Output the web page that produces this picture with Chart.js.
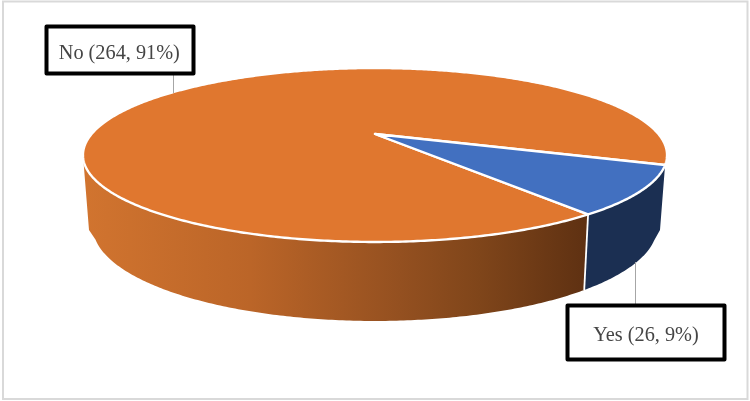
<!DOCTYPE html>
<html><head><meta charset="utf-8">
<script src="https://cdn.jsdelivr.net/npm/chart.js@4/dist/chart.umd.js"></script>
<style>html,body{margin:0;padding:0;background:#fff}#w{position:relative;width:750px;height:401px}</style>
</head><body><div id="w"><canvas id="c" width="750" height="401"></canvas></div>
<script>
const categories = ["Yes", "No"];
const counts = [26, 264];
const percents = [9, 91];
const sliceColors = ["#4270c0", "#e0772f"];
const wallColors = ["#1b2f52", null];

const K = 0.2414;            // perspective strength
const top3d = {cy:134, ax:283.4/133, by:81.9/133};
const bot3d = {cy:204.3, ax:273.7/133, by:88.5/133};
const rimShift = 0.015;      // lower rim seam sits slightly ahead of the upper one
function proj(arc, g, a){
  const u=Math.cos(a), v=Math.sin(a), w=1-K*v, r=arc.outerRadius;
  return [arc.x + g.ax*r*u/w, g.cy + g.by*r*v/w];
}
function trace(ctx, arc, g, a0, a1, move){
  const n=Math.max(2,Math.ceil(Math.abs(a1-a0)/0.01));
  for(let i=0;i<=n;i++){
    const p=proj(arc,g,a0+(a1-a0)*i/n);
    if(i===0&&move) ctx.moveTo(p[0],p[1]); else ctx.lineTo(p[0],p[1]);
  }
}
const leftLimit = Math.PI - Math.asin(K);
const pie3d = {
  id:"pie3d",
  beforeDatasetDraw(chart){
    const ctx=chart.ctx, arcs=chart.getDatasetMeta(0).data;
    const yes=arcs[0], no=arcs[1];
    const seam=no.startAngle-rimShift;
    ctx.save();
    const g=ctx.createLinearGradient(85,0,585,0);
    [[0,"#d1742f"],[0.33,"#bb6528"],[0.63,"#945020"],[0.79,"#7f451a"],[1,"#5f3112"]].forEach(s=>g.addColorStop(s[0],s[1]));
    ctx.beginPath();
    trace(ctx,no,top3d,no.startAngle,leftLimit,true);
    ctx.lineTo(89,230);
    trace(ctx,no,bot3d,leftLimit-0.13,seam,false);
    ctx.closePath();
    ctx.fillStyle=g; ctx.fill();
    ctx.beginPath();
    trace(ctx,yes,top3d,yes.startAngle,yes.endAngle,true);
    trace(ctx,yes,bot3d,seam,yes.startAngle+0.03,false);
    ctx.lineTo(660,230);
    ctx.closePath();
    ctx.fillStyle=wallColors[0]; ctx.fill();
    const pt=proj(no,top3d,no.startAngle), pb=proj(no,bot3d,seam);
    ctx.strokeStyle="#fff"; ctx.lineWidth=1.8;
    ctx.beginPath(); ctx.moveTo(pt[0],pt[1]); ctx.lineTo(pb[0],pb[1]); ctx.stroke();
    ctx.lineJoin="round";
    [no,yes].forEach((arc)=>{
      ctx.beginPath();
      ctx.moveTo(arc.x,top3d.cy);
      trace(ctx,arc,top3d,arc.startAngle,arc.endAngle,false);
      ctx.closePath();
      ctx.fillStyle=arc.options.backgroundColor; ctx.fill();
      ctx.strokeStyle="#fff"; ctx.lineWidth=2.4; ctx.stroke();
    });
    ctx.restore();
    return false;
  },
  afterDraw(chart){
    const ctx=chart.ctx;
    ctx.save();
    ctx.strokeStyle="#d9d9d9"; ctx.lineWidth=2;
    ctx.strokeRect(3,1.5,744.5,397.5);
    ctx.strokeStyle="#a6a6a6"; ctx.lineWidth=1;
    ctx.beginPath(); ctx.moveTo(173.5,75); ctx.lineTo(173.5,93);
    ctx.moveTo(635.5,262); ctx.lineTo(635.5,304); ctx.stroke();
    const boxes=[[567.5,305.5,157,54,646],[46.5,26.5,147,47,119.3]];
    const bases=[341,59];
    categories.forEach((c,i)=>{
      const b=boxes[i];
      ctx.fillStyle="#fff"; ctx.fillRect(b[0],b[1],b[2],b[3]);
      ctx.strokeStyle="#000"; ctx.lineWidth=4; ctx.lineJoin="round";
      ctx.strokeRect(b[0],b[1],b[2],b[3]);
      ctx.fillStyle="#454545"; ctx.font='20.3px "Liberation Serif"';
      ctx.textAlign="center"; ctx.textBaseline="alphabetic";
      ctx.fillText(c+" ("+counts[i]+", "+percents[i]+"%)",b[4],bases[i]);
    });
    ctx.restore();
  }
};
new Chart(document.getElementById("c"),{
  type:"pie",
  data:{labels:categories,datasets:[{data:counts,backgroundColor:sliceColors,borderColor:"#fff",borderWidth:2}]},
  options:{
    responsive:false,animation:false,rotation:110.3,
    layout:{padding:{bottom:133}},
    plugins:{legend:{display:false},tooltip:{enabled:false},title:{display:false}}
  },
  plugins:[pie3d]
});
</script></body></html>
